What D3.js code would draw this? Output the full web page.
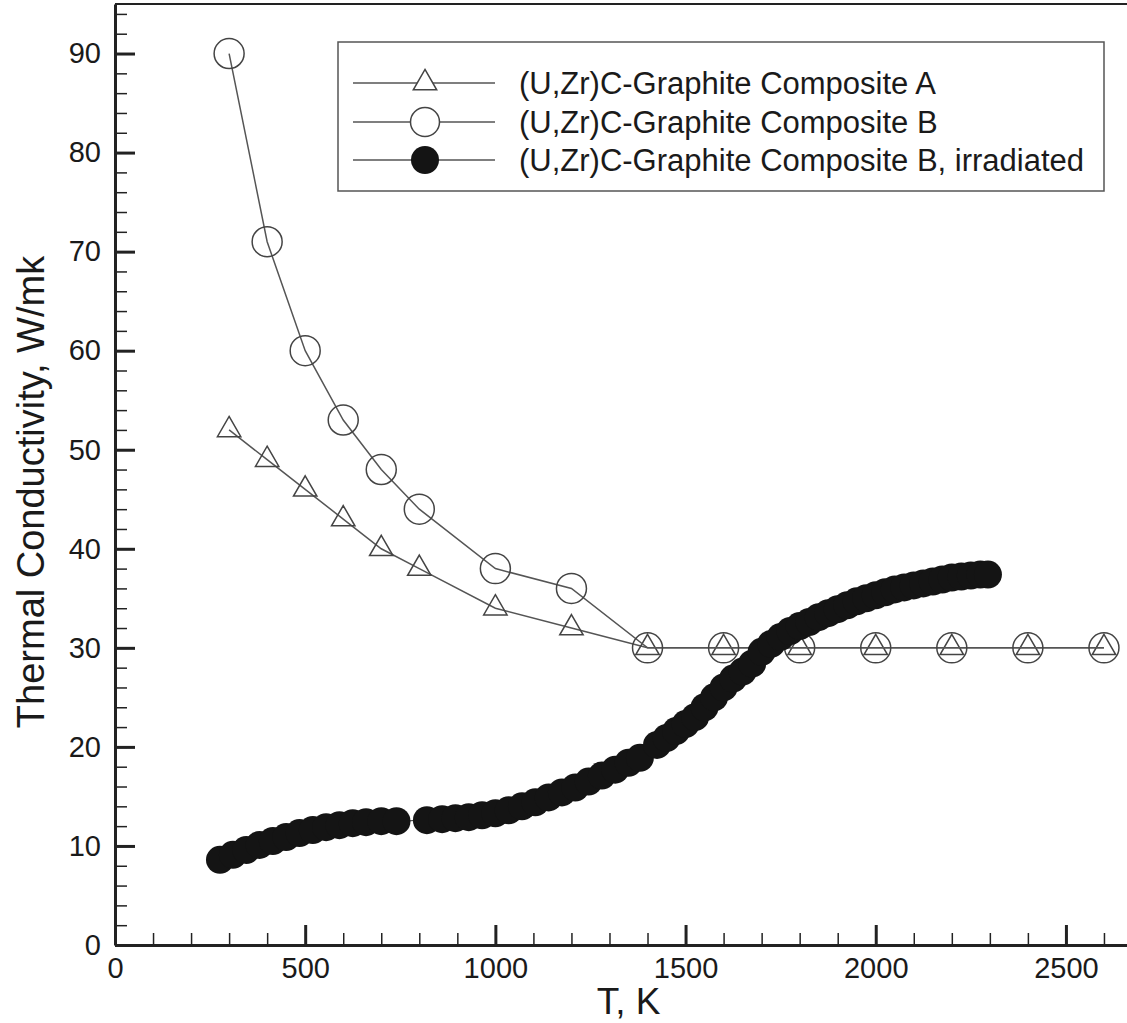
<!DOCTYPE html>
<html>
<head>
<meta charset="utf-8">
<script src="https://cdn.jsdelivr.net/npm/d3@7"></script>
<style>
  body { margin: 0; background: #fff; }
  svg { display: block; font-family: "Liberation Sans", Arial, Helvetica, sans-serif; }
</style>
</head>
<body>
<div id="chart"></div>
<script>
// thermal conductivity vs temperature, three composites

const tempA = [300, 400, 500, 600, 700, 800, 1000, 1200, 1400, 1600, 1800, 2000, 2200, 2400, 2600];
const condA = [52, 49, 46, 43, 40, 38, 34, 32, 30, 30, 30, 30, 30, 30, 30];

const tempB = [300, 400, 500, 600, 700, 800, 1000, 1200, 1400, 1600, 1800, 2000, 2200, 2400, 2600];
const condB = [90, 71, 60, 53, 48, 44, 38, 36, 30, 30, 30, 30, 30, 30, 30];

const tempIrr = [276, 310, 345, 380, 415, 450, 485, 520, 555, 590, 625, 660, 700, 740,
    820, 860, 895, 930, 965, 1000, 1035, 1070, 1105, 1140, 1175, 1210, 1245, 1280, 1315, 1350, 1380,
    1425, 1450, 1475, 1500, 1525, 1550, 1575, 1600, 1625, 1650, 1675, 1700, 1725, 1750, 1775, 1800,
    1825, 1850, 1875, 1900, 1925, 1950, 1975, 2000, 2025, 2050, 2075, 2100, 2125, 2150, 2175, 2200,
    2225, 2250, 2275, 2295];
const condIrr = [8.6, 9.1, 9.6, 10.1, 10.5, 10.9, 11.3, 11.6, 11.9, 12.1, 12.3, 12.4, 12.5, 12.5,
    12.6, 12.7, 12.8, 12.9, 13.1, 13.3, 13.6, 14.0, 14.4, 14.9, 15.4, 15.9, 16.5, 17.1, 17.7, 18.4, 18.9,
    20.2, 20.9, 21.6, 22.3, 23.0, 24.0, 25.0, 26.0, 26.9, 27.6, 28.4, 29.6, 30.4, 31.1, 31.7, 32.2,
    32.6, 33.1, 33.5, 33.9, 34.3, 34.7, 35.0, 35.3, 35.6, 35.9, 36.1, 36.3, 36.5, 36.7, 36.9, 37.1,
    37.2, 37.3, 37.4, 37.4];

const xMajor = [0, 500, 1000, 1500, 2000, 2500];
const yMajor = [0, 10, 20, 30, 40, 50, 60, 70, 80, 90];

const legendLabels = [
    "(U,Zr)C-Graphite Composite A",
    "(U,Zr)C-Graphite Composite B",
    "(U,Zr)C-Graphite Composite B, irradiated"
];

const W = 1127, H = 1023;

const x = d3.scaleLinear().domain([0, 2700]).range([115, 1142]);
const y = d3.scaleLinear().domain([0, 95]).range([945, 4]);

const svg = d3.select("#chart").append("svg")
    .attr("width", W)
    .attr("height", H);

svg.append("rect").attr("width", W).attr("height", H).attr("fill", "#fff");

// frame top
svg.append("line")
    .attr("x1", x(0)).attr("x2", x(2700))
    .attr("y1", y(95)).attr("y2", y(95))
    .attr("stroke", "#222").attr("stroke-width", 2);

// minor ticks
svg.append("g")
    .attr("transform", "translate(0," + y(0) + ")")
    .call(d3.axisBottom(x).tickValues(d3.range(0, 2701, 100)).tickFormat("").tickSizeInner(-12).tickSizeOuter(0))
    .call(g => g.select(".domain").remove())
    .call(g => g.selectAll("line").attr("stroke", "#222").attr("stroke-width", 1.5));

svg.append("g")
    .attr("transform", "translate(" + x(0) + ",0)")
    .call(d3.axisLeft(y).tickValues(d3.range(0, 95, 2)).tickFormat("").tickSizeInner(-12).tickSizeOuter(0))
    .call(g => g.select(".domain").remove())
    .call(g => g.selectAll("line").attr("stroke", "#222").attr("stroke-width", 1.5));

// major axes
const xAxis = svg.append("g")
    .attr("transform", "translate(0," + y(0) + ")")
    .call(d3.axisBottom(x).tickValues(xMajor).tickFormat(d3.format("d"))
        .tickSizeInner(-20).tickSizeOuter(0).tickPadding(12));

const yAxis = svg.append("g")
    .attr("transform", "translate(" + x(0) + ",0)")
    .call(d3.axisLeft(y).tickValues(yMajor).tickFormat(d3.format("d"))
        .tickSizeInner(-20).tickSizeOuter(0).tickPadding(14));

[xAxis, yAxis].forEach(function(g) {
    g.select(".domain").attr("stroke", "#222").attr("stroke-width", 3);
    g.selectAll(".tick line").attr("stroke", "#222").attr("stroke-width", 3);
    g.selectAll(".tick text")
        .attr("fill", "#1a1a1a")
        .style("font-size", "29px")
        .style("font-family", "'Liberation Sans', Arial, sans-serif");
});

// axis titles
svg.append("text")
    .attr("x", (x(0) + x(2700)) / 2)
    .attr("y", 1014)
    .attr("text-anchor", "middle")
    .attr("fill", "#1a1a1a")
    .style("font-size", "37px")
    .text("T, K");

svg.append("text")
    .attr("transform", "translate(44,492) rotate(-90)")
    .attr("text-anchor", "middle")
    .attr("fill", "#1a1a1a")
    .style("font-size", "38px")
    .text("Thermal Conductivity, W/mk");

const line = d3.line().x(d => x(d[0])).y(d => y(d[1]));
const tri = d3.symbol(d3.symbolTriangle, 237);

const dataA = tempA.map((t, i) => [t, condA[i]]);
const dataB = tempB.map((t, i) => [t, condB[i]]);
const dataIrr = tempIrr.map((t, i) => [t, condIrr[i]]);

// composite A
svg.append("path")
    .datum(dataA)
    .attr("d", line)
    .attr("fill", "none")
    .attr("stroke", "#555")
    .attr("stroke-width", 1.5);

svg.append("g").selectAll("path")
    .data(dataA)
    .join("path")
    .attr("transform", d => "translate(" + x(d[0]) + "," + y(d[1]) + ")")
    .attr("d", tri)
    .attr("fill", "none")
    .attr("stroke", "#444")
    .attr("stroke-width", 1.5);

// composite B
svg.append("path")
    .datum(dataB)
    .attr("d", line)
    .attr("fill", "none")
    .attr("stroke", "#555")
    .attr("stroke-width", 1.5);

svg.append("g").selectAll("circle")
    .data(dataB)
    .join("circle")
    .attr("cx", d => x(d[0]))
    .attr("cy", d => y(d[1]))
    .attr("r", 15)
    .attr("fill", "none")
    .attr("stroke", "#444")
    .attr("stroke-width", 1.5);

// composite B irradiated
svg.append("path")
    .datum(dataIrr)
    .attr("d", line)
    .attr("fill", "none")
    .attr("stroke", "#333")
    .attr("stroke-width", 1);

svg.append("g").selectAll("circle")
    .data(dataIrr)
    .join("circle")
    .attr("cx", d => x(d[0]))
    .attr("cy", d => y(d[1]))
    .attr("r", 14)
    .attr("fill", "#141414");

// legend
const legend = svg.append("g");
legend.append("rect")
    .attr("x", 338).attr("y", 42)
    .attr("width", 766).attr("height", 149)
    .attr("fill", "#fff")
    .attr("stroke", "#555")
    .attr("stroke-width", 1.5);

const rowY = [83, 122, 160];
legendLabels.forEach(function(label, i) {
    const row = legend.append("g").attr("transform", "translate(0," + rowY[i] + ")");
    row.append("line")
        .attr("x1", 353).attr("x2", 495)
        .attr("stroke", "#555").attr("stroke-width", 1.5);
    if (i === 0) {
        row.append("path")
            .attr("transform", "translate(425,0)")
            .attr("d", tri)
            .attr("fill", "#fff").attr("stroke", "#444").attr("stroke-width", 1.5);
    } else if (i === 1) {
        row.append("circle")
            .attr("cx", 425).attr("r", 14.5)
            .attr("fill", "#fff").attr("stroke", "#444").attr("stroke-width", 1.5);
    } else {
        row.append("circle")
            .attr("cx", 425).attr("r", 14)
            .attr("fill", "#141414");
    }
    row.append("text")
        .attr("x", 519)
        .attr("dy", "0.35em")
        .attr("fill", "#1a1a1a")
        .style("font-size", "31px")
        .text(label);
});
</script>
</body>
</html>
